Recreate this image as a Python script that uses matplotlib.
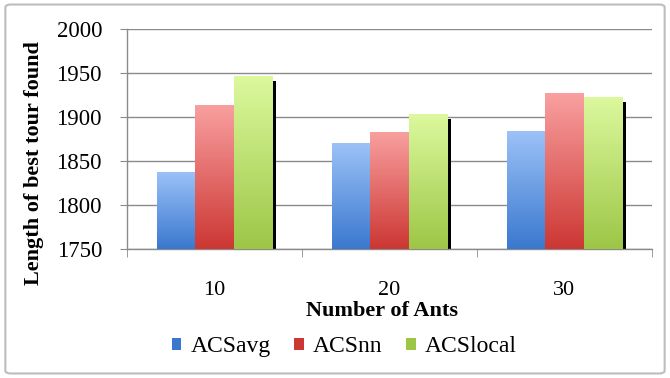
import numpy as np
import matplotlib
matplotlib.use("Agg")
import matplotlib.pyplot as plt
from matplotlib.patches import FancyBboxPatch, Patch
from matplotlib.colors import LinearSegmentedColormap

# Chart data
ants = ["10", "20", "30"]
series_names = ["ACSavg", "ACSnn", "ACSlocal"]
acs_avg = [1838, 1870, 1884]
acs_nn = [1914, 1883, 1927]
acs_local = [1947, 1903, 1923]

plt.rcParams['font.family'] = ['Liberation Serif', 'DejaVu Serif']

# (top colour, bottom colour) for each series gradient
grads = [("#9cc2f7", "#3a78cf"), ("#f9a0a0", "#cc3733"), ("#dcf99e", "#9dc646")]

fig = plt.figure(figsize=(6.7, 3.78), dpi=100)
ax = fig.add_axes([0.1896, 0.3413, 0.7834, 0.582])

x = np.arange(len(ants))
width = 0.22
offsets = [-width, 0.0, width]
ymin = 1750

# shadow behind the last series
shadow_dx = 0.023
shadow_dy = 5.7
ax.bar(x + offsets[2] + shadow_dx, np.array(acs_local) - shadow_dy - ymin, width,
       bottom=ymin, color="black", zorder=2)

grad_img = np.linspace(1, 0, 256).reshape(-1, 1)
for vals, off, (c_top, c_bot) in zip([acs_avg, acs_nn, acs_local], offsets, grads):
    cmap = LinearSegmentedColormap.from_list("g", [c_bot, c_top])
    bars = ax.bar(x + off, np.array(vals) - ymin, width, bottom=ymin,
                  color="none", edgecolor="none", zorder=3)
    for b in bars:
        x0, y0 = b.get_x(), b.get_y()
        im = ax.imshow(grad_img, cmap=cmap, aspect="auto", zorder=3,
                       extent=[x0, x0 + b.get_width(), y0, y0 + b.get_height()],
                       vmin=0, vmax=1)
        im.set_clip_path(b)

ax.set_xlim(-0.5, 2.5)
ax.set_ylim(1750, 2000)
ax.set_yticks(np.arange(1750, 2001, 50))
ax.grid(axis="y", color="#8a8a8a", linewidth=1.0, zorder=0)
ax.set_axisbelow(True)

for s in ["top", "right"]:
    ax.spines[s].set_visible(False)
for s in ["left", "bottom"]:
    ax.spines[s].set_color("#8a8a8a")
    ax.spines[s].set_linewidth(1.0)

ax.set_xticks(x)
ax.set_xticklabels(ants, fontsize=16)
ax.set_xticks(np.arange(-0.5, 2.6, 1.0), minor=True)
ax.tick_params(axis="x", which="major", length=0, pad=23)
ax.tick_params(axis="x", which="minor", length=6, color="#8a8a8a", direction="out")
ax.tick_params(axis="y", length=5, color="#8a8a8a", labelsize=16.5, pad=13)

fig.text(34.5 / 670, 1 - 163.5 / 378, "Length of best tour found", rotation=90,
         ha="center", va="center", fontsize=16, fontweight="bold")
fig.text(382 / 670, 1 - 311 / 378, "Number of Ants", ha="center", va="center",
         fontsize=16, fontweight="bold")

handles = [Patch(facecolor=c_bot, edgecolor="none") for _, c_bot in grads]
fig.legend(handles, series_names, loc="center", bbox_to_anchor=(0.514, 0.083),
           ncol=3, frameon=False, fontsize=17, handlelength=0.4, handleheight=0.4,
           handletextpad=0.4, columnspacing=1.0, borderaxespad=0)

border = FancyBboxPatch((0.008, 0.012), 0.984, 0.976, boxstyle="round,pad=0,rounding_size=0.008",
                        transform=fig.transFigure, facecolor="none", edgecolor="#bdbdbd",
                        linewidth=1.5)
fig.patches.append(border)

fig.savefig("out.png", dpi=100)
